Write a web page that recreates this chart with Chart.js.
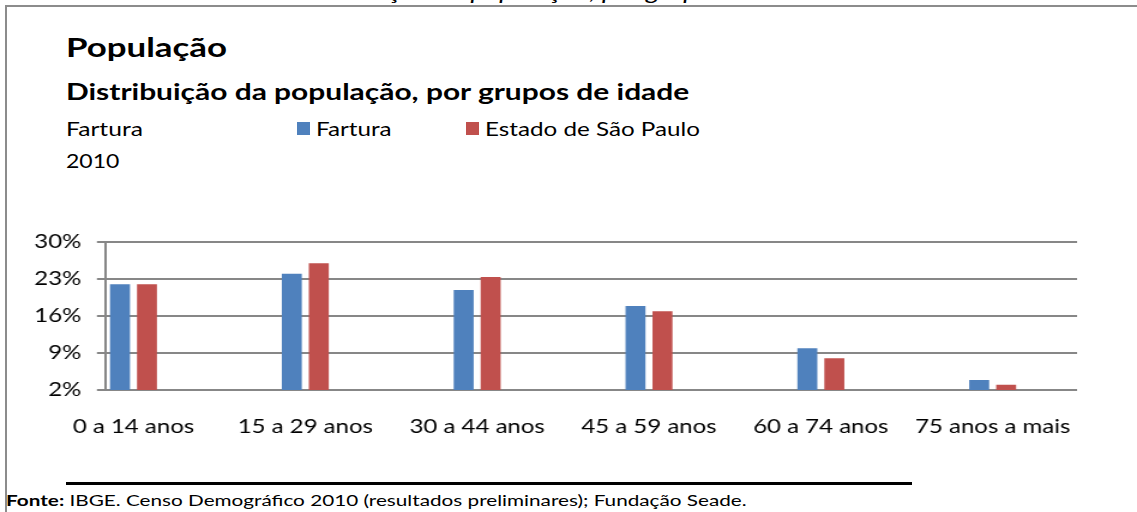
<!DOCTYPE html>
<html>
<head>
<meta charset="utf-8">
<title>População - Fartura</title>
<script src="https://cdn.jsdelivr.net/npm/chart.js@4.4.1/dist/chart.umd.min.js"></script>
<style>
  body { margin: 0; background: #fff; font-family: Lato, "Liberation Sans", sans-serif; color: #000; }
  #wrap { position: relative; width: 1137px; height: 512px; overflow: hidden; }
  #frame { position: absolute; left: 5px; top: 5px; width: 1140px; height: 520px;
           border-top: 2px solid #8c8c8c; border-left: 2px solid #8c8c8c; }
  .txt { position: absolute; line-height: 1; white-space: nowrap; transform-origin: 0 0; }
  #cut { left: 291px; top: -20px; font-size: 22px; font-style: italic; transform: scaleX(1.25); }
  #t1 { left: 66px; top: 33px; font-size: 27px; font-weight: bold; transform: scaleX(1.29); }
  #t2 { left: 66px; top: 81px; font-size: 22px; font-weight: bold; transform: scaleX(1.36); }
  #t3 { left: 66px; top: 118px; font-size: 20px; transform: scaleX(1.23); }
  #t4 { left: 66px; top: 150px; font-size: 20px; transform: scaleX(1.15); }
  .leg { top: 118px; font-size: 20px; transform: scaleX(1.21); }
  .sw { position: absolute; top: 122px; width: 13px; height: 13px; }
  #box { position: absolute; left: 0; top: 216px; }
  #rule { position: absolute; left: 66px; top: 482px; width: 846px; border-top: 3px solid #000; }
  #src { left: 6px; top: 493px; font-size: 15px; transform: scaleX(1.38); }
</style>
</head>
<body>
<div id="wrap">
  <div id="frame"></div>
  <div class="txt" id="cut">Distribuição da população, por grupos de idade</div>
  <div class="txt" id="t1">População</div>
  <div class="txt" id="t2">Distribuição da população, por grupos de idade</div>
  <div class="txt" id="t3">Fartura</div>
  <div class="txt" id="t4">2010</div>
  <div id="legend"></div>
  <!-- canvas desenhado mais estreito e esticado na horizontal, como no original -->
  <div id="box"><canvas id="myChart" width="948" height="235" style="width:1137px;height:235px"></canvas></div>
  <div id="rule"></div>
  <div class="txt" id="src"><b>Fonte:</b> IBGE. Censo Demográfico 2010 (resultados preliminares); Fundação Seade.</div>
</div>

<script>
// dados (% da população)
const faixas = ["0 a 14 anos", "15 a 29 anos", "30 a 44 anos", "45 a 59 anos", "60 a 74 anos", "75 anos a mais"];
const fartura = [22.0, 24.0, 20.9, 17.9, 9.9, 3.9];
const estadoSP = [22.0, 26.0, 23.4, 16.9, 8.0, 3.0];
const yTicks = [2, 9, 16, 23, 30];
const series = ["Fartura", "Estado de São Paulo"];
const cores = ["#4F81BD", "#C0504D"];

// legenda em html
const legendX = [297, 466];
let leg = '';
for (let i = 0; i < series.length; i++) {
    leg += '<div class="sw" style="left:' + legendX[i] + 'px;background:' + cores[i] + '"></div>';
    leg += '<div class="txt leg" style="left:' + (legendX[i] + 19) + 'px">' + series[i] + '</div>';
}
document.getElementById('legend').innerHTML = leg;

const tickFont = { family: 'Lato', size: 20 };
const gridColor = '#878787';

new Chart("myChart", {
    type: "bar",
    data: {
        datasets: [
            { label: series[0], backgroundColor: cores[0], data: faixas.map((f, i) => ({ x: i, y: fartura[i] })) },
            { label: series[1], backgroundColor: cores[1], data: faixas.map((f, i) => ({ x: i, y: estadoSP[i] })) }
        ]
    },
    options: {
        responsive: false,
        animation: false,
        layout: { padding: { left: 0, right: 50, top: 26, bottom: 5 } },
        datasets: { bar: { categoryPercentage: 0.314, barPercentage: 0.74, borderWidth: 0 } },
        plugins: { legend: { display: false }, tooltip: { enabled: false } },
        scales: {
            x: {
                type: 'linear',
                offset: false,
                min: -0.166,
                max: 5.491,
                afterBuildTicks: s => { s.ticks = faixas.map((f, i) => ({ value: i })); },
                afterFit: s => { s.height = 56; },
                grid: { display: false, drawTicks: false },
                border: { display: false },
                ticks: { callback: v => faixas[v], font: tickFont, color: '#000', padding: 25, maxRotation: 0, autoSkip: false }
            },
            y: {
                min: 2,
                max: 30,
                afterBuildTicks: s => { s.ticks = yTicks.map(v => ({ value: v })); },
                afterFit: s => { s.width = 87.5; },
                grid: { color: gridColor, lineWidth: 2, tickLength: 6.7 },
                border: { color: gridColor, width: 2 },
                ticks: { callback: v => v + '%', font: tickFont, color: '#000', padding: 13 }
            }
        }
    }
});
</script>
</body>
</html>
